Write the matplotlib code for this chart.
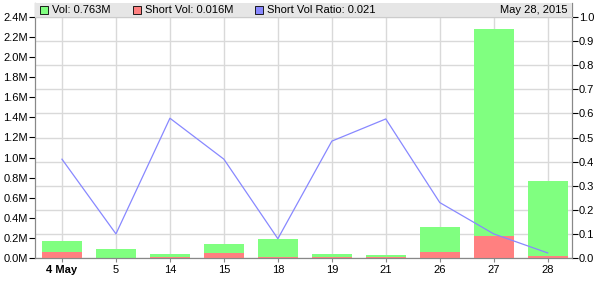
import matplotlib
matplotlib.use("Agg")
import matplotlib.pyplot as plt
import numpy as np

plt.rcParams['font.family'] = ['Liberation Sans', 'DejaVu Sans']

dates = ["4 May", "5", "14", "15", "18", "19", "21", "26", "27", "28"]
vol = [0.17, 0.09, 0.04, 0.14, 0.19, 0.04, 0.03, 0.31, 2.28, 0.763]
short_vol = [0.06, 0.0, 0.01, 0.05, 0.005, 0.005, 0.005, 0.06, 0.22, 0.016]
ratio = [0.41, 0.10, 0.58, 0.41, 0.08, 0.485, 0.577, 0.23, 0.10, 0.021]

green = "#80ff80"
red = "#ff8080"
blue = "#8888ff"
spine = "#888888"
grid = "#d9d9d9"

fig = plt.figure(figsize=(6, 2.94), dpi=100)
ax = fig.add_axes([35 / 600, 36 / 294, 537 / 600, 255 / 294])
ax2 = ax.twinx()

x = np.arange(len(dates))
vmax = 2.4 * 255 / 241
rmax = 1.0 * 255 / 241

# grid follows the ratio axis
for r in np.arange(0, 1.01, 0.1):
    ax.axhline(r * 2.4, color=grid, lw=1, zorder=0)
for xi in x:
    ax.axvline(xi, color=grid, lw=1, zorder=0)

ax.bar(x, vol, width=0.74, color=green, zorder=2)
ax.bar(x, short_vol, width=0.74, color=red, zorder=3)
ax2.plot(x, ratio, color=blue, lw=0.9, zorder=4)

ax.set_xlim(-0.5, 9.45)
ax.set_ylim(0, vmax)
ax2.set_ylim(0, rmax)

ax.set_yticks(np.arange(0, 2.41, 0.2))
ax.set_yticklabels(["%.1fM" % v for v in np.arange(0, 2.41, 0.2)])
ax2.set_yticks(np.arange(0, 1.01, 0.1))
ax2.set_yticklabels(["%.1f" % v for v in np.arange(0, 1.01, 0.1)])
ax.set_xticks(x)
ax.set_xticklabels(dates)
ax.get_xticklabels()[0].set_fontweight("bold")

for a in (ax, ax2):
    a.spines["top"].set_visible(False)
    for s in ("left", "right", "bottom"):
        a.spines[s].set_color(spine)
    a.tick_params(labelsize=8, colors="black", length=4, width=0.8)
ax.tick_params(axis="x", length=3, color=spine, pad=2)
ax.tick_params(axis="y", pad=1)
ax2.tick_params(axis="y", pad=1)

# header band with legend
band_h = 14 / 255
ax2.add_patch(plt.Rectangle((0, 1 - band_h), 1, band_h, transform=ax2.transAxes,
                            facecolor="#e6e6e6", edgecolor="none", zorder=5, clip_on=False))
ax2.plot([0, 1], [1 - band_h, 1 - band_h], transform=ax2.transAxes, color="#cccccc",
         lw=0.8, zorder=6, clip_on=False)
yb = 1 - band_h / 2
items = [(green, "Vol: %.3fM" % vol[-1], 9),
         (red, "Short Vol: %.3fM" % short_vol[-1], 102),
         (blue, "Short Vol Ratio: %.3f" % ratio[-1], 224)]
for col, label, px in items:
    ax2.plot([px / 537], [yb], marker="s", ms=5.5, mfc=col, mec="black", mew=0.6,
             transform=ax2.transAxes, zorder=7, clip_on=False)
    ax2.text((px + 8) / 537, yb, label, transform=ax2.transAxes, fontsize=8,
             va="center", ha="left", zorder=7)
ax2.text(533 / 537, yb, "May 28, 2015", transform=ax2.transAxes, fontsize=8,
         va="center", ha="right", zorder=7)

fig.savefig("out.png", dpi=100)
